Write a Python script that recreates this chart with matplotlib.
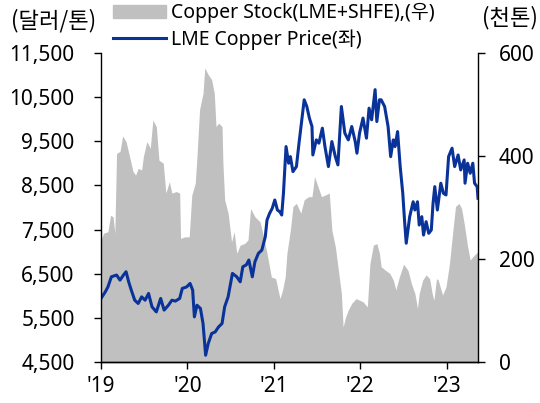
import matplotlib
matplotlib.use("Agg")
import matplotlib.pyplot as plt
import matplotlib.patches as mpatches
from matplotlib.lines import Line2D
from matplotlib.ticker import FuncFormatter

plt.rcParams['font.family'] = ['Noto Sans', 'Noto Sans CJK KR', 'DejaVu Sans']

# time in years since 2019-01-01
price_t = [0.00, 0.05, 0.08, 0.12, 0.18, 0.22, 0.26, 0.29, 0.32, 0.35, 0.39, 0.43,
           0.47, 0.51, 0.55, 0.59, 0.64, 0.69, 0.73, 0.78, 0.82, 0.86, 0.91, 0.94,
           0.99, 1.03, 1.06, 1.08, 1.11, 1.15, 1.18, 1.21, 1.24, 1.28, 1.32, 1.36,
           1.40, 1.43, 1.47, 1.52, 1.57, 1.61, 1.64, 1.68, 1.71, 1.75, 1.78, 1.82,
           1.86, 1.90, 1.92, 1.95, 1.98, 2.01, 2.04, 2.07, 2.09, 2.11, 2.14, 2.17,
           2.19, 2.22, 2.26, 2.29, 2.32, 2.35, 2.38, 2.41, 2.44, 2.45, 2.49, 2.52,
           2.56, 2.59, 2.63, 2.67, 2.71, 2.74, 2.78, 2.82, 2.86, 2.90, 2.94, 2.96,
           2.99, 3.03, 3.07, 3.10, 3.13, 3.17, 3.19, 3.22, 3.24, 3.28, 3.32, 3.35,
           3.38, 3.40, 3.43, 3.46, 3.49, 3.51, 3.53, 3.57, 3.61, 3.63, 3.66, 3.68,
           3.71, 3.73, 3.76, 3.79, 3.82, 3.84, 3.86, 3.89, 3.93, 3.96, 3.99, 4.02,
           4.06, 4.09, 4.13, 4.16, 4.20, 4.21, 4.24, 4.27, 4.30, 4.32, 4.35, 4.36]
lme_price = [5940, 6090, 6200, 6430, 6470, 6355, 6470, 6545, 6317, 6130, 5900, 5826,
             5976, 5900, 6053, 5750, 5635, 5940, 5675, 5787, 5900, 5880, 5940, 6167,
             6200, 6280, 6130, 5522, 5787, 5712, 5372, 4653, 4918, 5145, 5180, 5295,
             5372, 5750, 5976, 6507, 6430, 6317, 6657, 6700, 6809, 6430, 6770, 6960,
             7035, 7338, 7716, 7868, 7980, 8170, 7943, 7900, 7830, 8322, 9380, 9003,
             9153, 8813, 8927, 9457, 9947, 10440, 10288, 10026, 9835, 9190, 9532, 9457,
             9797, 9380, 8927, 9494, 9153, 8965, 10288, 9684, 9532, 9835, 9494, 9230,
             9684, 10026, 9570, 10250, 9987, 10670, 9947, 10440, 10440, 10288, 9835, 9153,
             9532, 9380, 9720, 8927, 8322, 7716, 7190, 7792, 8130, 7943, 8130, 7603,
             7792, 7376, 7679, 7415, 7490, 8095, 8473, 7943, 8550, 8322, 8284, 9153,
             9344, 8927, 9190, 8851, 9078, 8550, 9003, 8776, 9003, 8550, 8473, 8209]

stock_t = [0.00, 0.03, 0.08, 0.11, 0.14, 0.16, 0.18, 0.22, 0.25, 0.29, 0.34, 0.37,
           0.40, 0.43, 0.47, 0.49, 0.53, 0.57, 0.60, 0.64, 0.67, 0.72, 0.75, 0.79,
           0.82, 0.87, 0.91, 0.92, 0.97, 1.02, 1.05, 1.09, 1.11, 1.14, 1.18, 1.20,
           1.24, 1.28, 1.31, 1.33, 1.36, 1.40, 1.41, 1.43, 1.47, 1.51, 1.54, 1.57,
           1.61, 1.66, 1.70, 1.73, 1.78, 1.84, 1.88, 1.92, 1.97, 2.02, 2.07, 2.10,
           2.13, 2.15, 2.19, 2.22, 2.26, 2.31, 2.35, 2.40, 2.44, 2.47, 2.51, 2.55,
           2.59, 2.64, 2.67, 2.71, 2.74, 2.78, 2.80, 2.83, 2.86, 2.90, 2.95, 2.99,
           3.03, 3.08, 3.11, 3.15, 3.19, 3.22, 3.24, 3.29, 3.34, 3.38, 3.41, 3.45,
           3.50, 3.55, 3.59, 3.63, 3.66, 3.68, 3.72, 3.76, 3.80, 3.83, 3.85, 3.88,
           3.90, 3.95, 3.99, 4.03, 4.07, 4.10, 4.14, 4.17, 4.20, 4.24, 4.27, 4.32, 4.36]
copper_stock = [237, 250, 253, 285, 282, 250, 405, 409, 439, 428, 392, 370,
                363, 376, 373, 399, 428, 415, 470, 457, 392, 386, 328, 350,
                328, 331, 328, 240, 243, 243, 324, 347, 399, 490, 522, 571,
                558, 548, 522, 457, 464, 457, 386, 315, 289, 233, 253, 211,
                227, 230, 237, 298, 282, 272, 243, 211, 165, 162, 123, 140,
                165, 211, 256, 302, 308, 289, 315, 321, 321, 360, 340, 321,
                324, 328, 256, 224, 185, 133, 68, 88, 101, 114, 123, 120,
                117, 107, 191, 227, 230, 211, 185, 178, 172, 159, 140, 165,
                190, 178, 152, 133, 104, 133, 159, 169, 162, 133, 120, 162,
                159, 130, 146, 191, 256, 302, 308, 298, 269, 224, 198, 208, 214]

year_ticks = [2019, 2020, 2021, 2022, 2023]
year_labels = ["'19", "'20", "'21", "'22", "'23"]
price_ticks = [4500, 5500, 6500, 7500, 8500, 9500, 10500, 11500]
stock_ticks = [0, 200, 400, 600]

price_x = [2019 + t for t in price_t]
stock_x = [2019 + t for t in stock_t]

fig = plt.figure(figsize=(5.4, 4.03), dpi=100)
ax = fig.add_axes([101 / 540, 41 / 403, 377 / 540, 309 / 403])
ax2 = ax.twinx()

grey = '#c0c0c0'
blue = '#0a3399'
fs = 15
cjk = ['Noto Sans CJK KR', 'DejaVu Sans']

ax2.fill_between(stock_x, copper_stock, 0, color=grey, lw=0)
ax2.set_ylim(0, 600)
ax2.set_yticks(stock_ticks)

ax.plot(price_x, lme_price, color=blue, lw=2.2)
ax.set_ylim(4500, 11500)
ax.set_yticks(price_ticks)
ax.yaxis.set_major_formatter(FuncFormatter(lambda v, p: f'{int(v):,}'))
ax.set_xlim(2019, 2019 + 4.36)
ax.set_xticks(year_ticks)
ax.set_xticklabels(year_labels)

ax.set_zorder(ax2.get_zorder() + 1)
ax.patch.set_visible(False)

for a in (ax, ax2):
    a.spines['top'].set_visible(False)
    for s in a.spines.values():
        s.set_linewidth(1.0)
    a.tick_params(direction='out', length=5, width=1.0, labelsize=fs)
ax2.spines['left'].set_visible(False)
ax.spines['right'].set_visible(False)
ax.tick_params(axis='y', pad=14)
ax.tick_params(axis='x', pad=5)
ax2.tick_params(axis='y', pad=10)

handles = [mpatches.Patch(color=grey), Line2D([], [], color=blue, lw=2.2)]
labels = ['Copper Stock(LME+SHFE),(우)', 'LME Copper Price(좌)']
fig.legend(handles, labels, loc='upper left', bbox_to_anchor=(113 / 540, 1 - 3 / 403),
           frameon=False, fontsize=14, handlelength=2.7, handletextpad=0.3,
           labelspacing=0.3, borderpad=0, borderaxespad=0)

fig.text(11 / 540, 1 - 21 / 403, '(달러/톤)', fontsize=16, family=cjk,
         va='center', ha='left')
fig.text(538 / 540, 1 - 18 / 403, '(천톤)', fontsize=16, family=cjk,
         va='center', ha='right')

fig.savefig('out.png', dpi=100)
